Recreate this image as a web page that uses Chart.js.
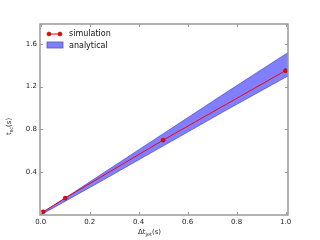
<!DOCTYPE html>
<html>
<head>
<meta charset="utf-8">
<script src="https://cdn.jsdelivr.net/npm/chart.js@4/dist/chart.umd.min.js"></script>
<style>
  html, body { margin: 0; padding: 0; background: #fff; }
  #wrap { width: 320px; height: 240px; }
</style>
</head>
<body>
<div id="wrap"><canvas id="c" width="320" height="240"></canvas></div>
<script>
// simulation points
const simX = [0.01, 0.1, 0.5, 1.0];
const simY = [0.03, 0.158, 0.70, 1.35];

// analytical band
const bandX = [0.0, 0.25, 0.5, 0.75, 1.01];
const bandUpper = [0.01, 0.385, 0.76, 1.135, 1.52];
const bandLower = [0.0, 0.32, 0.645, 0.97, 1.30];

const xTicks = [0.0, 0.2, 0.4, 0.6, 0.8, 1.0];
const yTicks = [0.4, 0.8, 1.2, 1.6];

const font = "'DejaVu Sans', sans-serif";

function toPts(xs, ys) {
    return xs.map((x, i) => ({ x: x, y: ys[i] }));
}

// frame, inward ticks, axis titles, legend
const decor = {
    id: 'decor',
    afterDatasetsDraw(chart) {
        const ctx = chart.ctx;
        const a = chart.chartArea;
        const xs = chart.scales.x;
        const ys = chart.scales.y;
        ctx.save();
        ctx.strokeStyle = '#9a9a9a';
        ctx.lineWidth = 1.5;
        ctx.strokeRect(a.left, a.top, a.right - a.left, a.bottom - a.top);
        ctx.lineWidth = 1;
        ctx.beginPath();
        xTicks.forEach((v) => {
            const p = Math.round(xs.getPixelForValue(v)) + 0.5;
            ctx.moveTo(p, a.bottom); ctx.lineTo(p, a.bottom - 3);
            ctx.moveTo(p, a.top); ctx.lineTo(p, a.top + 3);
        });
        yTicks.forEach((v) => {
            const p = Math.round(ys.getPixelForValue(v)) + 0.5;
            ctx.moveTo(a.left, p); ctx.lineTo(a.left + 3, p);
            ctx.moveTo(a.right, p); ctx.lineTo(a.right - 3, p);
        });
        ctx.stroke();

        // x title: Δt_jet(s)
        ctx.fillStyle = '#222';
        ctx.textBaseline = 'alphabetic';
        let cx = 138, cy = 234;
        ctx.font = '7px ' + font;
        ctx.fillText('\u0394t', cx, cy);
        cx += ctx.measureText('\u0394t').width;
        ctx.font = '5px ' + font;
        ctx.fillText('jet', cx, cy + 2);
        cx += ctx.measureText('jet').width;
        ctx.font = '7px ' + font;
        ctx.fillText('(s)', cx, cy);

        // y title: t_sc(s)
        ctx.save();
        ctx.translate(11, 135);
        ctx.rotate(-Math.PI / 2);
        cx = 0; cy = 0;
        ctx.font = '7px ' + font;
        ctx.fillText('t', cx, cy);
        cx += ctx.measureText('t').width;
        ctx.font = '5px ' + font;
        ctx.fillText('sc', cx, cy + 2);
        cx += ctx.measureText('sc').width;
        ctx.font = '7px ' + font;
        ctx.fillText('(s)', cx, cy);
        ctx.restore();

        // legend
        ctx.strokeStyle = 'red';
        ctx.lineWidth = 1;
        ctx.beginPath();
        ctx.moveTo(49, 34); ctx.lineTo(60, 34);
        ctx.stroke();
        [49, 60].forEach((px) => {
            ctx.beginPath();
            ctx.arc(px, 34, 2, 0, Math.PI * 2);
            ctx.fillStyle = 'red';
            ctx.fill();
            ctx.strokeStyle = '#700';
            ctx.lineWidth = 0.5;
            ctx.stroke();
        });
        ctx.fillStyle = '#8080ff';
        ctx.fillRect(47, 42, 16, 6);
        ctx.strokeStyle = '#5555aa';
        ctx.lineWidth = 0.8;
        ctx.strokeRect(47, 42, 16, 6);
        ctx.fillStyle = '#111';
        ctx.font = '8px ' + font;
        ctx.textBaseline = 'middle';
        ctx.fillText('simulation', 69, 34);
        ctx.fillText('analytical', 69, 45.5);
        ctx.restore();
    }
};

new Chart(document.getElementById('c'), {
    type: 'line',
    data: {
        datasets: [
            {
                label: 'simulation',
                data: toPts(simX, simY),
                borderColor: 'red',
                borderWidth: 1,
                backgroundColor: 'red',
                pointRadius: 2,
                pointBorderColor: '#700',
                pointBorderWidth: 0.5,
                pointBackgroundColor: 'red',
                fill: false,
                order: 0
            },
            {
                label: 'analytical',
                data: toPts(bandX, bandUpper),
                borderColor: 'rgba(40,40,150,0.6)',
                borderWidth: 0.8,
                pointRadius: 0,
                backgroundColor: 'rgba(0,0,255,0.5)',
                fill: '+1',
                order: 1
            },
            {
                label: 'analytical-low',
                data: toPts(bandX, bandLower),
                borderColor: 'rgba(40,40,150,0.6)',
                borderWidth: 0.8,
                pointRadius: 0,
                fill: false,
                order: 1
            }
        ]
    },
    options: {
        responsive: false,
        animation: false,
        events: [],
        layout: { padding: { left: 0, right: 32, top: 24, bottom: 0 } },
        plugins: { legend: { display: false }, tooltip: { enabled: false } },
        scales: {
            x: {
                type: 'linear',
                min: -0.003,
                max: 1.01,
                grid: { display: false, drawTicks: false },
                border: { display: false },
                afterBuildTicks: (s) => { s.ticks = xTicks.map((v) => ({ value: v })); },
                afterFit: (s) => { s.height = 25; },
                ticks: {
                    color: '#222',
                    padding: 3,
                    maxRotation: 0,
                    font: { family: font, size: 7 },
                    callback: (v) => Number(v).toFixed(1)
                }
            },
            y: {
                type: 'linear',
                min: 0.0,
                max: 1.786,
                grid: { display: false, drawTicks: false },
                border: { display: false },
                afterBuildTicks: (s) => { s.ticks = yTicks.map((v) => ({ value: v })); },
                afterFit: (s) => { s.width = 40; },
                ticks: {
                    color: '#222',
                    padding: 3,
                    font: { family: font, size: 7 },
                    callback: (v) => Number(v).toFixed(1)
                }
            }
        }
    },
    plugins: [decor]
});
</script>
</body>
</html>
